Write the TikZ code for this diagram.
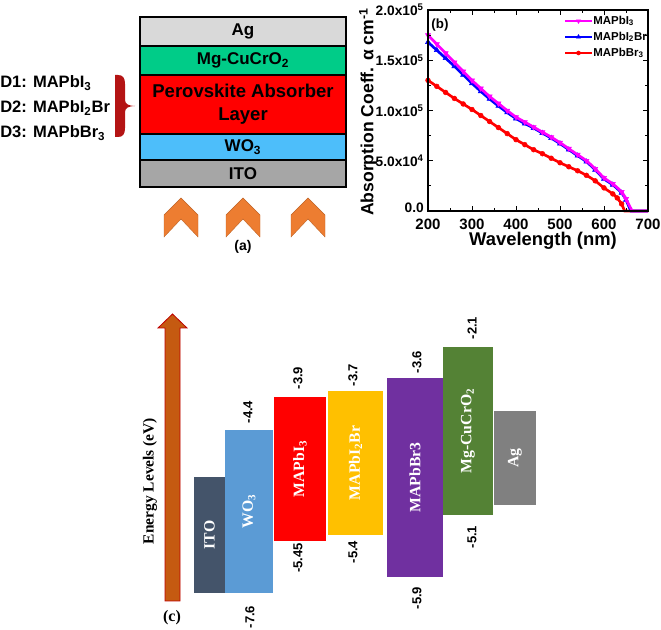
\documentclass[tikz,border=0pt]{standalone}
\usepackage{fontspec}
\setmainfont{Liberation Sans}
\newfontfamily\tms{Liberation Serif}
\usetikzlibrary{plotmarks}
\definecolor{agA}{RGB}{217,217,217}
\definecolor{mgA}{RGB}{0,204,136}
\definecolor{woA}{RGB}{77,190,250}
\definecolor{itoA}{RGB}{166,166,166}
\definecolor{braceC}{RGB}{180,20,20}
\definecolor{chev}{RGB}{237,125,49}
\definecolor{itoC}{RGB}{68,84,106}
\definecolor{woC}{RGB}{91,155,213}
\definecolor{ybC}{RGB}{255,192,0}
\definecolor{brC}{RGB}{112,48,160}
\definecolor{mgC}{RGB}{84,130,53}
\definecolor{agC}{RGB}{128,128,128}
\definecolor{arrC}{RGB}{197,90,17}
\definecolor{curM}{RGB}{255,0,255}
\definecolor{curB}{RGB}{0,0,255}
\definecolor{curR}{RGB}{255,0,0}
\begin{document}
\begin{tikzpicture}[x=0.75pt,y=-0.75pt,
  layerbox/.style={draw=black,line width=0.9pt,minimum width=206*0.75pt,inner sep=0pt,
    font=\fontsize{12.75}{14}\selectfont\bfseries},
  lvl/.style={rotate=90,inner sep=0pt,draw=none,text=white,
    font=\tms\fontsize{11.8}{13}\selectfont\bfseries},
  elab/.style={rotate=90,inner sep=0pt,font=\fontsize{9.75}{11}\selectfont\bfseries},
  dlab/.style={anchor=west,inner sep=0pt,font=\fontsize{12.4}{14}\selectfont\bfseries},
  ytl/.style={anchor=east,inner sep=0pt,font=\fontsize{10.3}{12}\selectfont\bfseries},
  xtl/.style={inner sep=0pt,font=\fontsize{11.25}{13}\selectfont\bfseries},
  legt/.style={anchor=west,inner sep=0pt,font=\fontsize{8.6}{10}\selectfont\bfseries},
  chevshape/.style={fill=chev,draw=chev!80!black,line width=0.3pt},
  curveM/.style={curM,line width=2pt,mark=triangle*,mark size=2.2pt,mark options={rotate=180,fill=curM,draw=curM,line width=0.4pt}},
  curveB/.style={curB,line width=2pt,mark=triangle*,mark size=2.2pt,mark options={fill=curB,draw=curB,line width=0.4pt}},
  curveR/.style={curR,line width=2pt,mark=*,mark size=1.8pt,mark options={fill=curR,draw=curR,line width=0.4pt}}
]
\useasboundingbox (0,0) rectangle (661,630);

% ---------------- panel (a)
\node[layerbox,fill=agA,minimum height=29*0.75pt] (ag) at (243,31.5) {Ag};
\node[layerbox,fill=mgA,minimum height=29*0.75pt] (mg) at (243,60.5) {Mg-CuCrO\textsubscript{2}};
\node[layerbox,fill=red,minimum height=59*0.75pt,align=center,
  font=\fontsize{13.9}{17.25}\selectfont\bfseries] (pero) at (243,104.5) {Perovskite Absorber\\Layer};
\node[layerbox,fill=woA,minimum height=26*0.75pt] (wo) at (243,147) {WO\textsubscript{3}};
\node[layerbox,fill=itoA,minimum height=27*0.75pt] (ito) at (243,173.5) {ITO};

\node[dlab] (d1) at (0,83) {D1: MAPbI\textsubscript{3}};
\node[dlab] (d2) at (0,108) {D2: MAPbI\textsubscript{2}Br};
\node[dlab] (d3) at (0,133) {D3: MAPbBr\textsubscript{3}};

\fill[braceC] (115,75) -- (118,75) .. controls (123,75) and (125,78) .. (125,84)
  -- (125,100) .. controls (125,104) and (129,106) .. (135,106)
  .. controls (129,106) and (125,108) .. (125,112)
  -- (125,128) .. controls (125,134) and (123,137) .. (118,137) -- (115,137) -- cycle;

\foreach \cx in {181,243,308}{
  \filldraw[chevshape] (\cx-17,237) -- (\cx-17,215) -- (\cx,198) -- (\cx+17,215)
    -- (\cx+17,237) -- (\cx,219) -- cycle;
}
\node[inner sep=0pt,font=\fontsize{10.5}{12}\selectfont\bfseries] (la) at (243,247) {(a)};

% ---------------- panel (b)
\begin{scope}[shift={(428,211)},x=0.33pt,y=75.375pt]
  \draw[curveR] plot[smooth] coordinates {(0,1.30) (20,1.24) (40,1.18) (60,1.12) (80,1.065)
    (100,1.01) (120,0.95) (140,0.89) (160,0.83) (180,0.77) (200,0.71) (220,0.66) (240,0.61)
    (260,0.57) (280,0.525) (300,0.48) (320,0.44) (340,0.40) (360,0.355) (380,0.30) (400,0.23)
    (420,0.17) (430,0.13) (440,0.07)} -- (447,0) -- (500,0);
  \draw[curveB] plot[smooth] coordinates {(0,1.68) (20,1.60) (40,1.52) (60,1.44) (80,1.355)
    (100,1.27) (120,1.19) (140,1.115) (160,1.045) (180,0.98) (200,0.92) (220,0.87) (240,0.825)
    (260,0.775) (280,0.725) (300,0.67) (320,0.61) (340,0.55) (360,0.49) (380,0.41) (400,0.32)
    (420,0.26) (440,0.18) (450,0.11)} -- (461,0) -- (500,0);
  \draw[curveM] plot[smooth] coordinates {(0,1.75) (20,1.66) (40,1.57) (60,1.48) (80,1.39)
    (100,1.30) (120,1.22) (140,1.14) (160,1.07) (180,1.00) (200,0.935) (220,0.885) (240,0.835)
    (260,0.785) (280,0.735) (300,0.68) (320,0.62) (340,0.56) (360,0.50) (380,0.42) (400,0.33)
    (420,0.27) (440,0.19) (450,0.12)} -- (464,0) -- (500,0);
  \draw[line width=0.8pt] (0,0) rectangle (500,2);
  \foreach \t in {0,100,...,500}{
    \draw[line width=0.6pt] (\t,0) -- ++(0pt,3.75pt);
    \draw[line width=0.6pt] (\t,2) -- ++(0pt,-3.75pt);
  }
  \foreach \t in {50,150,...,450}{
    \draw[line width=0.6pt] (\t,0) -- ++(0pt,2.25pt);
    \draw[line width=0.6pt] (\t,2) -- ++(0pt,-2.25pt);
  }
  \foreach \v in {0,0.5,1,1.5,2}{
    \draw[line width=0.6pt] (0,\v) -- ++(3.75pt,0pt);
    \draw[line width=0.6pt] (500,\v) -- ++(-3.75pt,0pt);
  }
  \foreach \v in {0.25,0.75,1.25,1.75}{
    \draw[line width=0.6pt] (0,\v) -- ++(2.25pt,0pt);
    \draw[line width=0.6pt] (500,\v) -- ++(-2.25pt,0pt);
  }
\end{scope}
\node[ytl] (y0) at (424,208) {0.0};
\node[ytl] (y1) at (424,160.75) {5.0x10\textsuperscript{4}};
\node[ytl] (y2) at (424,110.5) {1.0x10\textsuperscript{5}};
\node[ytl] (y3) at (424,60.25) {1.5x10\textsuperscript{5}};
\node[ytl] (y4) at (424,10) {2.0x10\textsuperscript{5}};
\foreach \w [count=\i from 0] in {200,300,400,500,600,700}{
  \node[xtl] (xt\i) at (428+44*\i,224) {\w};
}
\node[inner sep=0pt,font=\fontsize{13.8}{16}\selectfont\bfseries] (xlab) at (543,241) {Wavelength (nm)};
\node[rotate=90,inner sep=0pt,font=\fontsize{13.2}{15}\selectfont\bfseries] (ylab) at (368,112)
  {Absorption Coeff. α cm\textsuperscript{-1}};
\node[inner sep=0pt,font=\fontsize{10}{12}\selectfont\bfseries] (lb) at (440,25) {(b)};
% legend
\coordinate (lm1) at (565,21); \coordinate (lm2) at (592,21);
\coordinate (lb1) at (565,37); \coordinate (lb2) at (592,37);
\coordinate (lr1) at (565,53); \coordinate (lr2) at (592,53);
\draw[curM,line width=1.2pt] (lm1) -- (lm2);
\draw[curB,line width=1.2pt] (lb1) -- (lb2);
\draw[curR,line width=1.2pt] (lr1) -- (lr2);
\path plot[curveM,mark size=1.8pt] coordinates {(578.5,21)};
\path plot[curveB,mark size=1.8pt] coordinates {(578.5,37)};
\path plot[curveR,mark size=1.5pt] coordinates {(578.5,53)};
\node[legt] (lgm) at (593,21) {MAPbI\textsubscript{3}};
\node[legt] (lgb) at (593,37) {MAPbI\textsubscript{2}Br};
\node[legt] (lgr) at (593,53) {MAPbBr\textsubscript{3}};

% ---------------- panel (c)
\filldraw[fill=arrC,draw=red!75!black,line width=0.6pt] (165,601) -- (165,328) -- (158,328)
  -- (172.5,314) -- (187,328) -- (180,328) -- (180,601) -- cycle;
\node[rotate=90,inner sep=0pt,font=\tms\fontsize{11.6}{13}\selectfont\bfseries] (elev) at (150,481) {Energy Levels (eV)};
\node[inner sep=0pt,font=\tms\fontsize{12}{14}\selectfont\bfseries] (lc) at (172,618) {(c)};

\node[lvl,fill=itoC,minimum width=116*0.75pt,minimum height=31*0.75pt] (c1) at (209.5,535) {ITO};
\node[lvl,fill=woC,minimum width=163*0.75pt,minimum height=48*0.75pt] (c2) at (249,511.5) {WO\textsubscript{3}};
\node[lvl,fill=red,minimum width=144*0.75pt,minimum height=52*0.75pt] (c3) at (300,469) {MAPbI\textsubscript{3}};
\node[lvl,fill=ybC,minimum width=144*0.75pt,minimum height=55*0.75pt] (c4) at (355.5,463) {MAPbI\textsubscript{2}Br};
\node[lvl,fill=brC,minimum width=199*0.75pt,minimum height=56*0.75pt] (c5) at (415,477.5) {MAPbBr3};
\node[lvl,fill=mgC,minimum width=168*0.75pt,minimum height=50*0.75pt] (c6) at (468,431) {Mg-CuCrO\textsubscript{2}};
\node[lvl,fill=agC,minimum width=94*0.75pt,minimum height=42*0.75pt] (c7) at (515,458) {Ag};

\node[elab] (e1) at (248,412) {-4.4};
\node[elab] (e2) at (250,617) {-7.6};
\node[elab] (e3) at (298,378) {-3.9};
\node[elab] (e4) at (298,558) {-5.45};
\node[elab] (e5) at (353,375) {-3.7};
\node[elab] (e6) at (353,552) {-5.4};
\node[elab] (e7) at (417,362) {-3.6};
\node[elab] (e8) at (417,598) {-5.9};
\node[elab] (e9) at (472,328) {-2.1};
\node[elab] (e10) at (472,537) {-5.1};
\end{tikzpicture}
\end{document}
